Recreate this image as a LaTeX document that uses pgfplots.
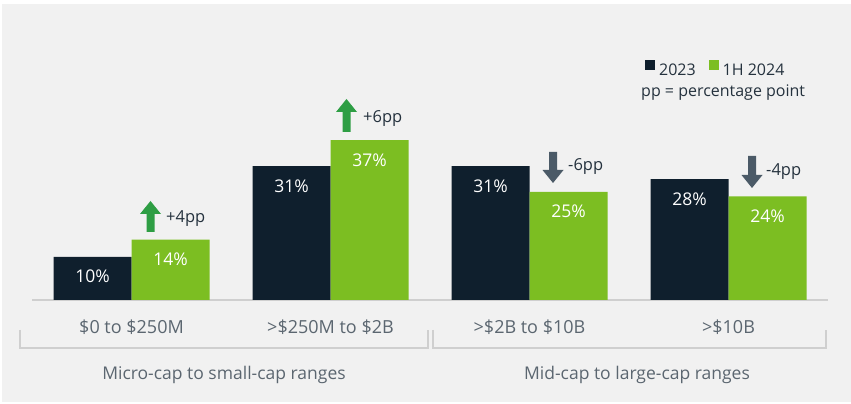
\documentclass[border=0pt]{standalone}
\usepackage{fontspec}
\setmainfont{Open Sans}
\usepackage{pgfplots}
\pgfplotsset{compat=1.18}
\definecolor{navy}{HTML}{0F1F2D}
\definecolor{barGreen}{HTML}{7CBE22}
\definecolor{arrGreen}{HTML}{2E9E44}
\definecolor{arrGray}{HTML}{4B5A67}
\definecolor{bgGray}{HTML}{F1F1F1}
\definecolor{lineGray}{HTML}{CFCFCF}
\definecolor{tickGray}{HTML}{5B6670}
\definecolor{darkText}{HTML}{25323E}
\newcommand{\Y}[1]{404-#1}
\newcommand{\uparr}[4]{\fill[#1] ({#2-4},{404-#4}) -- ({#2-4},{404-#3-13}) -- ({#2-10.5},{404-#3-13}) -- ({#2},{404-#3}) -- ({#2+10.5},{404-#3-13}) -- ({#2+4},{404-#3-13}) -- ({#2+4},{404-#4}) -- cycle;}
\newcommand{\downarr}[4]{\fill[#1] ({#2-4},{404-#3}) -- ({#2-4},{404-#4+13}) -- ({#2-10.5},{404-#4+13}) -- ({#2},{404-#4}) -- ({#2+10.5},{404-#4+13}) -- ({#2+4},{404-#4+13}) -- ({#2+4},{404-#3}) -- cycle;}
\begin{document}
\begin{tikzpicture}
\useasboundingbox (0,0) rectangle (851pt,404pt);
\fill[white] (0,0) rectangle (851pt,404pt);
\fill[bgGray] (2pt,2pt) rectangle (851pt,400pt);
\begin{axis}[
  at={(32pt,104pt)}, anchor=south west,
  scale only axis, width=796pt, height=259.2pt,
  xmin=-0.5, xmax=3.5, ymin=0, ymax=60,
  ybar=0pt, bar width=78pt,
  axis x line*=bottom, axis y line=none,
  x axis line style={-, draw=lineGray, line width=1.5pt},
  xtick=data, major tick length=0pt, ytick=\empty,
  /pgf/number format/assume math mode=true,
  xticklabels={\$0 to \$250M, >\$250M to \$2B, >\$2B to \$10B, >\$10B},
  xticklabel style={font=\fontsize{18}{20}\selectfont, text=tickGray, anchor=base, yshift=-34pt},
  nodes near coords={\pgfmathprintnumber[assume math mode=true]{\pgfplotspointmeta}\%},
  nodes near coords style={font=\fontsize{17.5}{20}\selectfont, text=white, anchor=base, yshift=-26pt},
  legend style={draw=none, fill=none, legend columns=2, at={(0.770,0.889)}, anchor=west, inner sep=0pt,
    font=\fontsize{16}{18}\selectfont, text=darkText,
    nodes={inner sep=2pt},
    /tikz/every odd column/.append style={column sep=2pt},
    /tikz/every even column/.append style={column sep=11pt}},
  legend image code/.code={\fill[#1] (0pt,0.7pt) rectangle (10pt,10.7pt);},
  clip=false,
]
\addplot[fill=navy, draw=none] coordinates {(0,10) (1,31) (2,31) (3,28)};
\addplot[fill=barGreen, draw=none] coordinates {(0,14) (1,37) (2,25) (3,24)};
\legend{2023, 1H 2024}
\end{axis}
\begin{scope}[x=1pt, y=1pt]
\node[anchor=base west, inner sep=0pt, font=\fontsize{16}{18}\selectfont, text=darkText] at (641,{\Y{97}}) {pp = percentage point};
\uparr{arrGreen}{150.5}{201}{232}
\uparr{arrGreen}{346.5}{99}{132}
\downarr{arrGray}{553}{152}{183}
\downarr{arrGray}{752}{156}{188}
\tikzset{ann/.style={anchor=base west, inner sep=0pt, font=\fontsize{16.5}{18}\selectfont, text=darkText}}
\node[ann] at (166,{\Y{223}}) {+4pp};
\node[ann] at (363,{\Y{123}}) {+6pp};
\node[ann] at (568,{\Y{171}}) {-6pp};
\node[ann] at (766,{\Y{176}}) {-4pp};
\draw[lineGray, line width=1.5pt] (20,{\Y{330}}) -- (20,{\Y{348}}) -- (428,{\Y{348}}) -- (428,{\Y{330}});
\draw[lineGray, line width=1.5pt] (433,{\Y{330}}) -- (433,{\Y{348}}) -- (826,{\Y{348}}) -- (826,{\Y{330}});
\tikzset{grp/.style={anchor=base, inner sep=0pt, font=\fontsize{17.5}{20}\selectfont, text=tickGray}}
\node[grp] at (224,{\Y{380}}) {Micro-cap to small-cap ranges};
\node[grp] at (637,{\Y{380}}) {Mid-cap to large-cap ranges};
\end{scope}
\end{tikzpicture}
\end{document}
